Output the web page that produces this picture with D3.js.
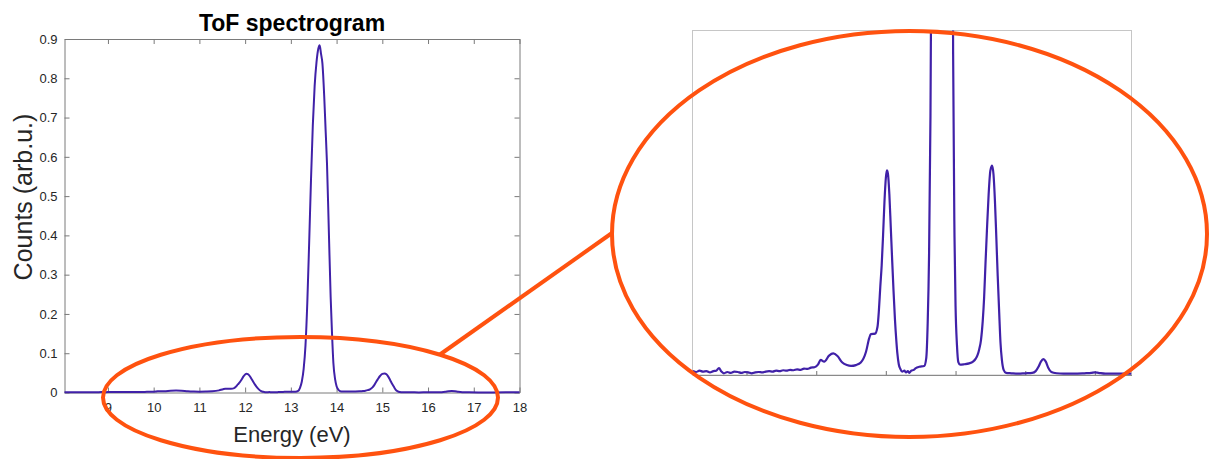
<!DOCTYPE html>
<html>
<head>
<meta charset="utf-8">
<script src="https://cdn.jsdelivr.net/npm/d3@7"></script>
<style>
  body { margin: 0; background: #fff; }
  svg { display: block; }
  text { font-family: "Liberation Sans", Arial, Helvetica, sans-serif; }
</style>
</head>
<body>
<svg id="chart" width="1210" height="459"></svg>
<script>
// Photoelectron time-of-flight spectrum, converted to energy (eV) vs counts (arb.u.)
const energy = [
  6.45, 6.55, 6.65, 6.75, 6.85, 6.95, 7.05, 7.13, 7.21, 7.28, 7.35, 7.45, 7.55, 7.65, 7.75, 7.85, 7.95,
  8.05, 8.15, 8.25, 8.35, 8.45, 8.55, 8.65, 8.75, 8.85, 8.95, 9.05, 9.15, 9.25, 9.35, 9.45, 9.55, 9.65,
  9.75, 9.85, 9.95, 10.05, 10.13, 10.23, 10.37, 10.49, 10.61, 10.75, 10.88, 11.00, 11.14, 11.28, 11.43,
  11.52, 11.57, 11.69, 11.76, 11.80, 11.84, 11.88, 11.92, 11.96, 12.00, 12.03, 12.06, 12.10, 12.14,
  12.18, 12.22, 12.26, 12.30, 12.33, 12.37, 12.41, 12.47, 12.53, 12.58, 12.63, 12.67, 12.73, 12.80,
  12.86, 12.96, 13.10, 13.16, 13.20, 13.24, 13.28, 13.32, 13.36, 13.40, 13.44, 13.48, 13.52, 13.56,
  13.60, 13.63, 13.66, 13.69, 13.73, 13.76, 13.79, 13.83, 13.87, 13.90, 13.93, 13.97, 14.00, 14.04,
  14.08, 14.13, 14.25, 14.39, 14.50, 14.58, 14.63, 14.68, 14.73, 14.78, 14.82, 14.86, 14.90, 14.95,
  15.00, 15.05, 15.09, 15.13, 15.17, 15.21, 15.25, 15.29, 15.33, 15.38, 15.45, 15.60, 15.80, 16.00,
  16.20, 16.30, 16.38, 16.45, 16.52, 16.59, 16.66, 16.75, 16.90, 17.10, 17.40, 17.70, 17.90, 18.00,
  18.10, 18.30, 18.60, 18.85, 19.05
];
const counts = [
  0.0009, 0.0007, 0.0010, 0.0008, 0.0009, 0.0006, 0.0009, 0.0010, 0.0016, 0.0008, 0.0004, 0.0007, 0.0005, 0.0008, 0.0007, 0.0005, 0.0007,
  0.0006, 0.0004, 0.0006, 0.0007, 0.0006, 0.0008, 0.0009, 0.0008, 0.0010, 0.0009, 0.0011, 0.0010, 0.0012, 0.0011, 0.0013, 0.0012, 0.0015,
  0.0014, 0.0017, 0.0018, 0.0024, 0.0035, 0.0031, 0.0045, 0.0050, 0.0044, 0.0029, 0.0023, 0.0021, 0.0023, 0.0029, 0.0054,
  0.0085, 0.0095, 0.0096, 0.0112, 0.0150, 0.0205, 0.0255, 0.0325, 0.0403, 0.0458, 0.0475, 0.0467, 0.0420, 0.0345,
  0.0268, 0.0195, 0.0130, 0.0080, 0.0050, 0.0025, 0.0015, 0.0008, 0.0010, 0.0006, 0.0009, 0.0005, 0.0010, 0.0012,
  0.0016, 0.0019, 0.0021, 0.0040, 0.0120, 0.0280, 0.060, 0.120, 0.230, 0.380, 0.540, 0.680, 0.780, 0.840,
  0.875, 0.884, 0.862, 0.838, 0.753, 0.668, 0.584, 0.414, 0.244, 0.150, 0.075, 0.032, 0.016, 0.0070,
  0.0030, 0.0024, 0.0025, 0.0027, 0.0031, 0.0038, 0.0046, 0.0060, 0.0081, 0.0125, 0.0180, 0.0260, 0.0335, 0.0420,
  0.0475, 0.0486, 0.0465, 0.0405, 0.0320, 0.0230, 0.0150, 0.0075, 0.0035, 0.0012, 0.0005, 0.0004, 0.0003, 0.0004,
  0.0005, 0.0009, 0.0019, 0.0031, 0.0037, 0.0031, 0.0017, 0.0007, 0.0004, 0.0003, 0.0003, 0.0004, 0.0005, 0.0006,
  0.0005, 0.0003, 0.0003, 0.0003, 0.0003
];

const mainXDomain = [8.05, 18];
const mainYDomain = [0, 0.9];
const mainXTicks = [9, 10, 11, 12, 13, 14, 15, 16, 17, 18];
const mainYTicks = [0, 0.1, 0.2, 0.3, 0.4, 0.5, 0.6, 0.7, 0.8, 0.9];

const zoomXDomain = [6.45, 19.05];
const zoomYDomain = [0, 0.08];
const zoomXTicks = [8, 10, 12, 14, 16, 18];

const titleText = "ToF spectrogram";
const xLabelText = "Energy (eV)";
const yLabelText = "Counts (arb.u.)";

const points = energy.map((e, i) => ({ e, c: counts[i] }));

const lineColor = "#4021a8";
const axisColor = "#7a7a7a";
const tickTextColor = "#262626";
const markColor = "#ff520f";

const svg = d3.select("#chart");

// ---------- main spectrum ----------
const M = { left: 64.5, right: 519.5, top: 39, bottom: 392.5 };
const x = d3.scaleLinear().domain(mainXDomain).range([M.left, M.right]);
const y = d3.scaleLinear().domain(mainYDomain).range([M.bottom, M.top]);

svg.append("clipPath").attr("id", "mainClip")
  .append("rect").attr("x", M.left).attr("y", M.top - 2)
  .attr("width", M.right - M.left).attr("height", M.bottom - M.top + 4);

const main = svg.append("g");

function styleAxis(g) {
  g.selectAll("path, line").attr("stroke", axisColor).attr("stroke-width", 1);
  g.selectAll("text").attr("fill", tickTextColor).style("font-size", "13px")
    .style("font-family", '"Liberation Sans", Arial, sans-serif');
}

main.append("g").attr("transform", `translate(0,${M.bottom})`)
  .call(d3.axisBottom(x).tickValues(mainXTicks).tickFormat(d3.format("d"))
    .tickSizeInner(-5).tickSizeOuter(0).tickPadding(10.5))
  .call(styleAxis);
main.append("g").attr("transform", `translate(0,${M.top})`)
  .call(d3.axisTop(x).tickValues(mainXTicks).tickFormat("")
    .tickSizeInner(-5).tickSizeOuter(0))
  .call(styleAxis);
main.append("g").attr("transform", `translate(${M.left},0)`)
  .call(d3.axisLeft(y).tickValues(mainYTicks).tickFormat(d => d === 0 ? "0" : d3.format(".1f")(d))
    .tickSizeInner(-5).tickSizeOuter(0).tickPadding(7))
  .call(styleAxis);
main.append("g").attr("transform", `translate(${M.right},0)`)
  .call(d3.axisRight(y).tickValues(mainYTicks).tickFormat("")
    .tickSizeInner(-5).tickSizeOuter(0))
  .call(styleAxis);

main.append("path").datum(points)
  .attr("clip-path", "url(#mainClip)")
  .attr("fill", "none").attr("stroke", lineColor).attr("stroke-width", 2)
  .attr("stroke-linejoin", "round")
  .attr("d", d3.line().x(d => x(d.e)).y(d => y(d.c)).curve(d3.curveMonotoneX));

main.append("text").attr("x", (M.left + M.right) / 2).attr("y", 31)
  .attr("text-anchor", "middle").style("font-size", "23px").style("font-weight", "bold")
  .attr("fill", "#000").text(titleText);
main.append("text").attr("x", (M.left + M.right) / 2).attr("y", 442)
  .attr("text-anchor", "middle").style("font-size", "22px")
  .attr("fill", tickTextColor).text(xLabelText);
main.append("text")
  .attr("transform", "translate(32,197) rotate(-90)")
  .attr("text-anchor", "middle").style("font-size", "25px")
  .attr("fill", tickTextColor).text(yLabelText);

// ---------- magnified baseline ----------
const Z = { left: 692.5, right: 1131.5, top: 30.5, bottom: 375 };
const xz = d3.scaleLinear().domain(zoomXDomain).range([Z.left, Z.right]);
const yz = d3.scaleLinear().domain(zoomYDomain).range([Z.bottom, Z.top]);

svg.append("clipPath").attr("id", "zoomClip")
  .append("rect").attr("x", Z.left).attr("y", Z.top)
  .attr("width", Z.right - Z.left).attr("height", Z.bottom - Z.top + 2);

const zoom = svg.append("g");
zoom.append("rect").attr("x", Z.left).attr("y", Z.top)
  .attr("width", Z.right - Z.left).attr("height", Z.bottom - Z.top)
  .attr("fill", "#fff").attr("stroke", "#c6c6c6").attr("stroke-width", 1);

zoom.append("g").attr("transform", `translate(0,${Z.bottom})`)
  .call(d3.axisBottom(xz).tickValues(zoomXTicks).tickFormat("")
    .tickSizeInner(-4).tickSizeOuter(0))
  .call(g => g.selectAll("path, line").attr("stroke", "#8a8a8a").attr("stroke-width", 1.2));

zoom.append("path").datum(points)
  .attr("clip-path", "url(#zoomClip)")
  .attr("fill", "none").attr("stroke", lineColor).attr("stroke-width", 2.2)
  .attr("stroke-linejoin", "round")
  .attr("d", d3.line().x(d => xz(d.e)).y(d => yz(d.c)).curve(d3.curveMonotoneX));

// ---------- highlight ellipses and connector ----------
const marks = svg.append("g").attr("fill", "none").attr("stroke", markColor).attr("stroke-width", 4);
marks.append("ellipse").attr("cx", 300.5).attr("cy", 397.5).attr("rx", 197.5).attr("ry", 60.5);
marks.append("ellipse").attr("cx", 909.5).attr("cy", 234).attr("rx", 297.5).attr("ry", 203);
marks.append("line").attr("x1", 440).attr("y1", 354.5).attr("x2", 612).attr("y2", 233);
</script>
</body>
</html>
